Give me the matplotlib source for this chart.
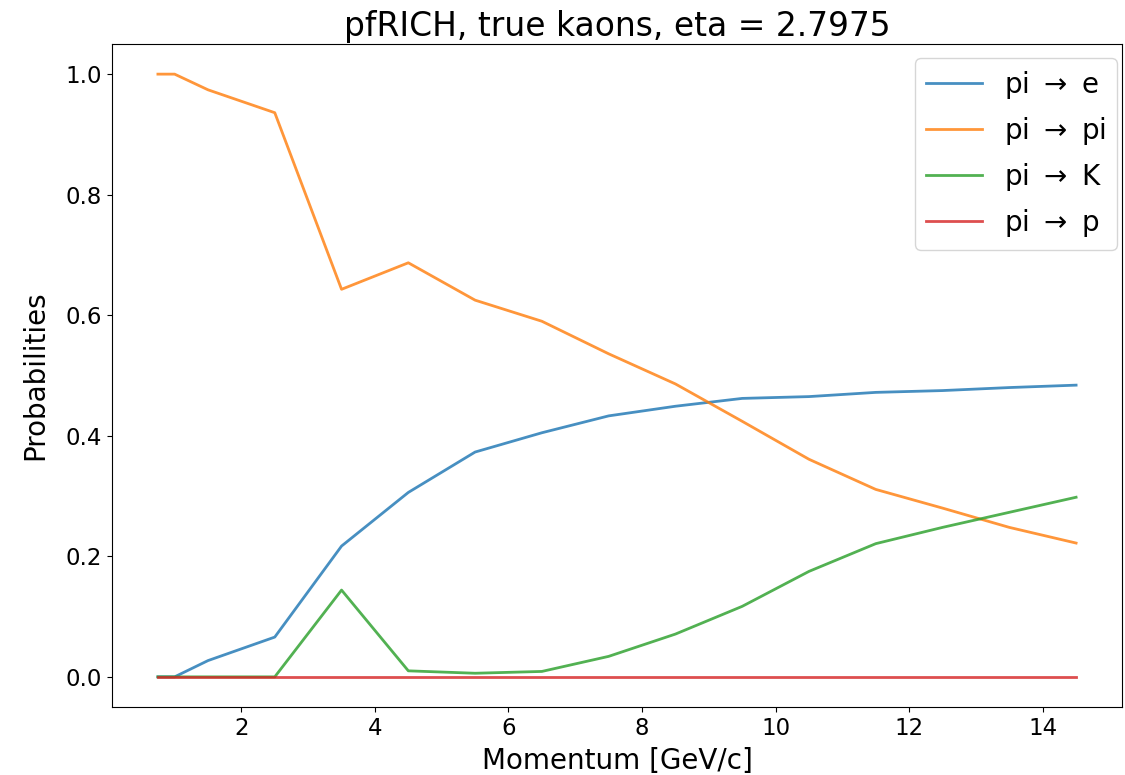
import matplotlib
matplotlib.use("Agg")
import matplotlib.pyplot as plt

momentum = [0.75, 1.0, 1.5, 2.5, 3.5, 4.5, 5.5, 6.5, 7.5, 8.5, 9.5, 10.5, 11.5, 12.5, 13.5, 14.5]
pi_to_e = [0.0, 0.0, 0.027, 0.066, 0.217, 0.306, 0.373, 0.405, 0.433, 0.449, 0.462, 0.465, 0.472, 0.475, 0.480, 0.484]
pi_to_pi = [1.0, 1.0, 0.974, 0.936, 0.643, 0.687, 0.625, 0.590, 0.536, 0.486, 0.424, 0.361, 0.311, 0.280, 0.248, 0.222]
pi_to_K = [0.0, 0.0, 0.0, 0.0, 0.144, 0.010, 0.006, 0.009, 0.034, 0.071, 0.117, 0.175, 0.221, 0.248, 0.273, 0.298]
pi_to_p = [0.0] * 16
labels = ["pi $\\rightarrow$ e", "pi $\\rightarrow$ pi", "pi $\\rightarrow$ K", "pi $\\rightarrow$ p"]

W, H = 1125, 775
fig = plt.figure(figsize=(W / 100, H / 100), dpi=100)
ax = fig.add_axes([112 / W, 1 - 707 / H, (1122 - 112) / W, (707 - 44) / H])
for ys, lab in zip([pi_to_e, pi_to_pi, pi_to_K, pi_to_p], labels):
    ax.plot(momentum, ys, label=lab, lw=2, alpha=0.82)

ax.set_title("pfRICH, true kaons, eta = 2.7975", fontsize=23.7, pad=6)
ax.set_xlabel("Momentum [GeV/c]", fontsize=20, labelpad=5.5)
ax.set_ylabel("Probabilities", fontsize=20, labelpad=12)
ax.tick_params(labelsize=16.5)
ax.legend(fontsize=20, loc="upper right", borderaxespad=0,
          bbox_to_anchor=(1117 / W, 1 - 58 / H), bbox_transform=fig.transFigure)
fig.savefig("out.png", dpi=100)
